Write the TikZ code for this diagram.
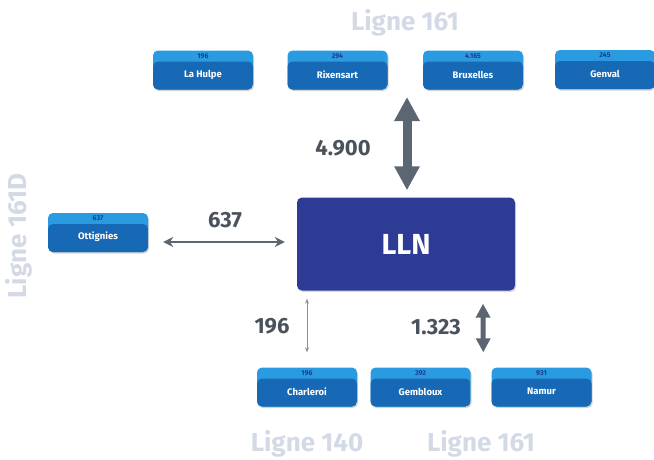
\documentclass[tikz,border=0pt]{standalone}
\usepackage{fontspec}
\setmainfont{Fira Sans}
\usetikzlibrary{arrows.meta,shadows}
\definecolor{boxdark}{HTML}{1769B5}
\definecolor{boxlight}{HTML}{2A9BE0}
\definecolor{numblue}{HTML}{1E3C8C}
\definecolor{llnblue}{HTML}{2D3B95}
\definecolor{arrowgrey}{HTML}{5C6673}
\definecolor{thingrey}{HTML}{8A9099}
\definecolor{lignegrey}{HTML}{D3DAE6}
\definecolor{textgrey}{HTML}{4A525C}
\tikzset{
  station/.style={fill=boxlight, rounded corners=5pt, minimum width=100pt, minimum height=39pt,
    inner sep=0pt, drop shadow={opacity=0.35, shadow xshift=1pt, shadow yshift=-1.5pt},
    path picture={\fill[boxdark, rounded corners=5pt] ([yshift=-11pt]path picture bounding box.north west) rectangle (path picture bounding box.south east);}},
  stnum/.style={text=numblue, font=\bfseries\fontsize{7}{8}\selectfont, inner sep=0pt},
  stname/.style={text=white, font=\bfseries\fontsize{9.5}{10}\selectfont, inner sep=0pt},
  lln/.style={fill=llnblue, rounded corners=5pt, minimum width=218pt, minimum height=93pt,
    text=white, font=\bfseries\fontsize{29}{30}\selectfont,
    drop shadow={opacity=0.3, shadow xshift=1pt, shadow yshift=-1.5pt}},
  flowlabel/.style={text=textgrey, font=\bfseries\fontsize{22}{24}\selectfont, inner sep=0pt},
  ligne/.style={text=lignegrey, font=\bfseries\fontsize{26}{28}\selectfont, inner sep=0pt},
  bigarrow/.style={draw=arrowgrey, line width=9pt, {Triangle[width=24pt,length=24pt]}-{Triangle[width=24pt,length=24pt]}},
  midarrow/.style={draw=arrowgrey, line width=5pt, {Triangle[width=14pt,length=14pt]}-{Triangle[width=14pt,length=14pt]}},
  thinarrow/.style={draw=arrowgrey, line width=1.6pt, {Stealth[width=10pt,length=10pt]}-{Stealth[width=10pt,length=10pt]}},
  hairarrow/.style={draw=thingrey, line width=0.6pt, {Stealth[width=4pt,length=5pt]}-{Stealth[width=4pt,length=5pt]}},
}
\newcommand\stationbox[5]{%
  \node[station] (#1) at (#2,#3) {};
  \node[stnum] (#1-num) at ([yshift=-5.5pt]#1.north) {#4};
  \node[stname] (#1-name) at ([yshift=-4.5pt]#1.center) {#5};
}
\begin{document}
\begin{tikzpicture}[x=1pt,y=-1pt]
\useasboundingbox (0,0) rectangle (654,459);
% titles
\node[ligne] (t-top) at (405,23) {Ligne 161};
\node[ligne, rotate=90] (t-left) at (19,236) {Ligne 161D};
\node[ligne] (t-b140) at (307,444) {Ligne 140};
\node[ligne] (t-b161) at (481,444) {Ligne 161};
% stations
\stationbox{lahulpe}{203}{70}{196}{La Hulpe}
\stationbox{rixensart}{337.5}{70}{294}{Rixensart}
\stationbox{bruxelles}{473}{70}{4.165}{Bruxelles}
\stationbox{genval}{605}{69.5}{245}{Genval}
\stationbox{ottignies}{98}{232.5}{637}{Ottignies}
\stationbox{charleroi}{307}{387}{196}{Charleroi}
\stationbox{gembloux}{420.5}{387}{392}{Gembloux}
\stationbox{namur}{541.5}{387}{931}{Namur}
% center
\node[lln] (lln) at (406,244) {LLN};
% connectors
\coordinate (top161) at (407,97);
\draw[bigarrow] (top161) -- ([xshift=1pt,yshift=7pt]lln.north);
\draw[thinarrow] ([xshift=15pt,yshift=-9.5pt]ottignies.east) -- ([xshift=-12pt,yshift=2pt]lln.west);
\draw[hairarrow] ([yshift=-8pt]lln.south -| charleroi.north) -- ([yshift=15pt]charleroi.north);
\draw[midarrow] ([xshift=77pt,yshift=-13pt]lln.south) -- ([xshift=-8pt,yshift=15pt]namur.north west);
% flow labels
\node[flowlabel] (f4900) at (343,148) {4.900};
\node[flowlabel] (f637) at (225,220) {637};
\node[flowlabel] (f196) at (272,326) {196};
\node[flowlabel] (f1323) at (436,327) {1.323};
\end{tikzpicture}
\end{document}
